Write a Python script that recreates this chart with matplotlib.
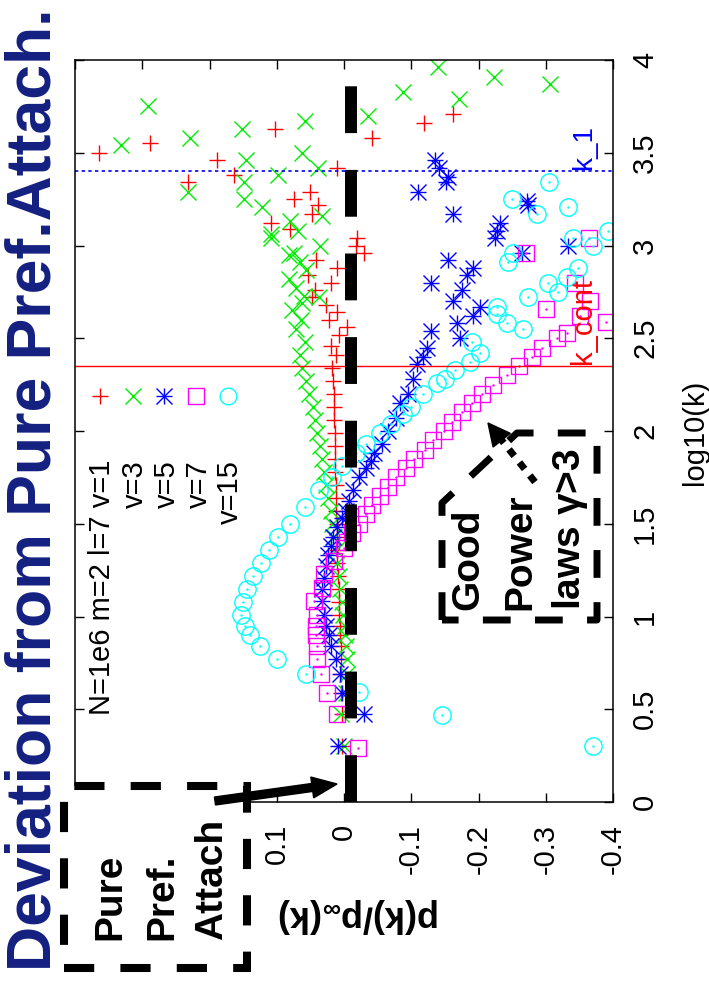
import numpy as np
import matplotlib
matplotlib.use('Agg')
import matplotlib.pyplot as plt
from matplotlib.transforms import IdentityTransform
from matplotlib.patches import Rectangle, Polygon, FancyArrow
from matplotlib.lines import Line2D

# ---------------- data (log10(k), deviation) ----------------
v1_logk = [0.30, 0.475, 0.59, 0.69, 0.77, 0.84, 0.90, 0.95, 1.01, 1.08, 1.15, 1.22, 1.29, 1.36,
           1.43, 1.50, 1.57, 1.64, 1.71, 1.78, 1.85, 1.92, 1.99, 2.06, 2.13, 2.20, 2.27, 2.34,
           2.41, 2.46, 2.52, 2.56, 2.60, 2.64, 2.68, 2.72, 2.76, 2.80, 2.84, 2.88, 2.92, 2.96,
           3.00, 3.04, 3.09, 3.12, 3.17, 3.22, 3.25, 3.29, 3.34, 3.38, 3.42, 3.46, 3.50, 3.55,
           3.58, 3.63, 3.66, 3.71]
v1_dev = [0.003, 0.003, 0.004, 0.004, 0.005, 0.005, 0.006, 0.006, 0.007, 0.008, 0.008, 0.009,
          0.010, 0.010, 0.011, 0.011, 0.012, 0.012, 0.012, 0.013, 0.013, 0.014, 0.014, 0.015,
          0.015, 0.015, 0.016, 0.018, 0.012, 0.020, 0.008, -0.005, 0.022, 0.010, 0.027, 0.047,
          0.043, 0.020, 0.053, 0.011, 0.041, -0.030, -0.018, -0.020, 0.080, 0.108, 0.047, 0.038,
          0.075, 0.050, 0.232, 0.163, 0.011, 0.189, 0.364, 0.288, -0.041, 0.102, -0.119, -0.162]

v3_logk = [0.30, 0.475, 0.59, 0.69, 0.77, 0.84, 0.90, 0.95, 1.01, 1.08, 1.15, 1.22, 1.29, 1.36,
           1.43, 1.50, 1.57, 1.64, 1.71, 1.78, 1.85, 1.92, 1.99, 2.06, 2.13, 2.20, 2.27, 2.34,
           2.41, 2.48, 2.55, 2.60, 2.65, 2.69, 2.72, 2.73, 2.77, 2.82, 2.87, 2.91, 2.95, 2.96,
           3.00, 3.04, 3.06, 3.08, 3.13, 3.16, 3.21, 3.25, 3.29, 3.34, 3.38, 3.42, 3.46, 3.50,
           3.54, 3.58, 3.63, 3.67, 3.70, 3.75, 3.79, 3.83, 3.87, 3.91, 3.96]
v3_dev = [0.000, 0.004, -0.003, -0.004, -0.004, -0.003, -0.002, -0.002, 0.002, 0.003, 0.006,
          0.008, 0.010, 0.012, 0.015, 0.018, 0.020, 0.024, 0.027, 0.030, 0.033, 0.036, 0.040,
          0.043, 0.046, 0.052, 0.056, 0.062, 0.066, 0.058, 0.072, 0.064, 0.078, 0.062, 0.037,
          0.059, 0.071, 0.082, 0.056, 0.066, 0.082, 0.074, 0.035, 0.108, 0.108, 0.068, 0.080,
          0.032, 0.122, 0.149, 0.232, 0.149, 0.098, 0.038, 0.146, 0.062, 0.332, 0.229, 0.151,
          0.058, -0.035, 0.292, -0.171, -0.087, -0.307, -0.223, -0.140]

v5_logk = [0.30, 0.475, 0.59, 0.69, 0.77, 0.84, 0.90, 0.95, 1.01, 1.085, 1.15, 1.21, 1.27, 1.33,
           1.38, 1.43, 1.48, 1.53, 1.57, 1.62, 1.68, 1.75, 1.80, 1.84, 1.88, 1.93, 2.00, 2.07,
           2.15, 2.20, 2.28, 2.36, 2.40, 2.45, 2.50, 2.54, 2.58, 2.62, 2.67, 2.70, 2.76, 2.80,
           2.84, 2.88, 2.92, 2.96, 3.00, 3.04, 3.08, 3.12, 3.17, 3.22, 3.24, 3.29, 3.34, 3.37,
           3.42, 3.46]
v5_dev = [0.009, -0.029, 0.003, 0.006, 0.012, 0.019, 0.022, 0.027, 0.030, 0.032, 0.032, 0.030,
          0.027, 0.024, 0.020, 0.016, 0.010, 0.003, -0.003, -0.008, -0.013, -0.023, -0.033,
          -0.040, -0.045, -0.057, -0.065, -0.078, -0.083, -0.095, -0.102, -0.108, -0.117,
          -0.123, -0.172, -0.130, -0.168, -0.192, -0.202, -0.162, -0.175, -0.130, -0.183,
          -0.192, -0.155, -0.265, -0.333, -0.224, -0.227, -0.232, -0.162, -0.274, -0.272,
          -0.110, -0.152, -0.154, -0.142, -0.135]

v7_logk = [0.29, 0.475, 0.59, 0.69, 0.77, 0.84, 0.90, 0.95, 1.01, 1.085, 1.155, 1.23, 1.30,
           1.37, 1.40, 1.45, 1.50, 1.55, 1.60, 1.65, 1.70, 1.75, 1.80, 1.85, 1.90, 1.95, 2.00,
           2.05, 2.10, 2.15, 2.20, 2.25, 2.30, 2.35, 2.40, 2.45, 2.50, 2.53, 2.59, 2.62, 2.66,
           2.70, 2.80, 2.96, 3.04]
v7_dev = [-0.021, 0.010, 0.025, 0.034, 0.040, 0.040, 0.042, 0.042, 0.040, 0.044, 0.032, 0.030,
          0.015, 0.000, -0.005, -0.012, -0.022, -0.032, -0.042, -0.054, -0.065, -0.078, -0.092,
          -0.104, -0.120, -0.133, -0.148, -0.160, -0.175, -0.190, -0.205, -0.222, -0.243,
          -0.260, -0.280, -0.295, -0.316, -0.331, -0.390, -0.351, -0.300, -0.366, -0.344,
          -0.270, -0.364]

v15_logk = [0.30, 0.47, 0.595, 0.69, 0.77, 0.84, 0.90, 0.95, 1.01, 1.08, 1.15, 1.22, 1.29, 1.36,
            1.43, 1.50, 1.59, 1.68, 1.75, 1.81, 1.88, 1.93, 1.99, 2.04, 2.09, 2.13, 2.20, 2.26,
            2.28, 2.33, 2.37, 2.42, 2.48, 2.55, 2.58, 2.63, 2.67, 2.72, 2.75, 2.80, 2.83, 2.88,
            2.91, 2.96, 3.00, 3.04, 3.08, 3.17, 3.21, 3.25, 3.34]
v15_dev = [-0.371, -0.145, -0.022, 0.056, 0.099, 0.125, 0.140, 0.147, 0.153, 0.150, 0.144,
           0.135, 0.124, 0.112, 0.098, 0.080, 0.058, 0.037, 0.018, 0.003, -0.018, -0.033,
           -0.053, -0.070, -0.087, -0.100, -0.117, -0.138, -0.150, -0.165, -0.187, -0.202,
           -0.190, -0.266, -0.242, -0.227, -0.227, -0.274, -0.318, -0.304, -0.331, -0.348,
           -0.244, -0.252, -0.370, -0.341, -0.393, -0.287, -0.333, -0.250, -0.305]

legend_labels = ['N=1e6 m=2 l=7 v=1', 'v=3', 'v=5', 'v=7', 'v=15']
dev_ticks = [0.4, 0.3, 0.2, 0.1, 0.0, -0.1, -0.2, -0.3, -0.4]
dev_ticklabels = ['', '', '', '0.1', '0', '-0.1', '-0.2', '-0.3', '-0.4']
logk_ticks = [0, 0.5, 1, 1.5, 2, 2.5, 3, 3.5, 4]
logk_ticklabels = ['0', '0.5', '1', '1.5', '2', '2.5', '3', '3.5', '4']
ref_dev = -0.01          # thick dashed "pure pref. attach" line
k1_logk = 3.40
kcont_logk = 2.353

# ---------------- styling ----------------
plt.rcParams['font.family'] = ['Liberation Sans', 'DejaVu Sans']
plt.rcParams['mathtext.fontset'] = 'custom'
plt.rcParams['mathtext.rm'] = 'Liberation Sans'
plt.rcParams['mathtext.bf'] = 'Liberation Sans:bold'
plt.rcParams['mathtext.it'] = 'Liberation Sans:italic'

W, H = 709, 981
fig = plt.figure(figsize=(W / 100, H / 100), dpi=100)
ax = fig.add_axes([75 / W, 1 - 802 / H, (613 - 75) / W, (802 - 60) / H])
PX = IdentityTransform()

def fx(x):
    return x / W

def fy(y):
    return 1 - y / H

RED, GREEN, BLUE, MAG, CYAN = '#ff0000', '#00ee00', '#0000ff', '#ff00ff', '#00ffff'
mk = dict(ls='none', mew=1.0)

ax.plot(v1_dev, v1_logk, marker='+', ms=12, color=RED, **mk)
ax.plot(v3_dev, v3_logk, marker='x', ms=12, color=GREEN, **mk)
ax.plot(v5_dev, v5_logk, marker='+', ms=12, color=BLUE, **mk)
ax.plot(v5_dev, v5_logk, marker='x', ms=12, color=BLUE, **mk)
ax.plot(v7_dev, v7_logk, marker='s', ms=11.5, mfc='none', color=MAG, **mk)
ax.plot(v7_dev, v7_logk, marker='.', ms=1.5, color=MAG, **mk)
ax.plot(v15_dev, v15_logk, marker='o', ms=12.5, mfc='none', color=CYAN, **mk)
ax.plot(v15_dev, v15_logk, marker='.', ms=1.5, color=CYAN, **mk)

# reference lines
ax.axhline(k1_logk, color=BLUE, lw=1.2, ls=(0, (2, 2)))
ax.axhline(kcont_logk, color=RED, lw=1.0)
ax.plot([ref_dev, ref_dev], [0.0, 4.3], color='black', lw=8.6,
        ls=(0, (3.92, 3.08)), dash_capstyle='butt', zorder=10, clip_on=True)

ax.set_xlim(0.4, -0.4)
ax.set_ylim(0, 4)
ax.set_xticks(dev_ticks)
ax.set_xticklabels(dev_ticklabels)
ax.set_yticks(logk_ticks)
ax.set_yticklabels(logk_ticklabels)
ax.yaxis.tick_right()
ax.tick_params(direction='in', length=6.5, width=1.0, top=True, bottom=True,
               left=True, right=True, labelsize=21)
ax.tick_params(axis='x', labelrotation=90, pad=16)
ax.tick_params(axis='y', labelrotation=90, pad=13, labelleft=False, labelright=True)
for lab in ax.get_yticklabels():
    lab.set_va('center')
for s in ax.spines.values():
    s.set_linewidth(1.1)

# line labels
fig.text(fx(591), fy(170), 'k_1', color=BLUE, fontsize=20, rotation=90,
         rotation_mode='anchor', ha='left', va='baseline')
fig.text(fx(591), fy(364), 'k_cont', color=RED, fontsize=21, rotation=90,
         rotation_mode='anchor', ha='left', va='baseline')

# legend
key_x = [100, 133, 164, 196, 228]
key_y = 396
leg_keys = [dict(marker='+', color=RED), dict(marker='x', color=GREEN),
            dict(marker='+', color=BLUE), dict(marker='s', color=MAG, mfc='none'),
            dict(marker='o', color=CYAN, mfc='none')]
for i, (xx, kw) in enumerate(zip(key_x, leg_keys)):
    ms = 12 if kw['marker'] in '+xo' else 11.5
    fig.add_artist(Line2D([fx(xx)], [fy(key_y)], transform=fig.transFigure,
                          ms=ms, mew=1.0, ls='none', **kw))
    if i == 2:
        fig.add_artist(Line2D([fx(xx)], [fy(key_y)], transform=fig.transFigure,
                              marker='x', ms=12, mew=1.0, color=BLUE, ls='none'))
text_base = [110, 143, 175, 207, 238]
for lab, xb in zip(legend_labels, text_base):
    fig.text(fx(xb), fy(460), lab, fontsize=21, rotation=90, rotation_mode='anchor',
             ha='right', va='baseline')

# title and axis labels
fig.text(fx(51), fy(490), 'Deviation from Pure Pref.Attach.', rotation=90,
         rotation_mode='anchor', ha='center', va='baseline', fontsize=45,
         fontweight='bold', color='#142080')
fig.text(fx(359), fy(915), r'p(k)/p$_\mathbf{\infty}$(k)', rotation=180,
         ha='center', va='center', fontsize=26, fontweight='bold')
fig.text(fx(695), fy(432), 'log10(k)', rotation=90, ha='center', va='center', fontsize=21)

# box 1: Pure Pref. Attach
box1 = Rectangle((64, H - 968), 183, 182, transform=PX, facecolor='white',
                 edgecolor='black', lw=5.8, ls=(0, (3.75, 3.25)), zorder=5)
fig.add_artist(box1)
for txt, xb in zip(['Pure', 'Pref.', 'Attach'], [120, 172, 222]):
    fig.text(fx(xb), fy(940), txt, rotation=90, rotation_mode='anchor', ha='left',
             va='baseline', fontsize=28, fontweight='bold', zorder=6)
arr1 = FancyArrow(215, H - 801, 337 - 215, 801 - 784, width=8, head_width=21,
                  head_length=25, length_includes_head=True, color='black',
                  transform=PX, zorder=7)
fig.add_artist(arr1)

# box 2: Good Power laws
box2 = Polygon([(442, H - 620), (442, H - 503), (517, H - 433), (597, H - 433),
                (597, H - 620)], closed=True, transform=PX, facecolor='none',
               edgecolor='black', lw=5.0, ls=(0, (4.0, 3.5)), joinstyle='round', zorder=5)
fig.add_artist(box2)
for txt, xb in zip(['Good', 'Power', r'laws $\mathregular{\gamma}$>3'], [478, 530, 580]):
    fig.text(fx(xb), fy(610), txt, rotation=90, rotation_mode='anchor', ha='left',
             va='baseline', fontsize=28, fontweight='bold', zorder=6)
tail = np.array([535.0, 482.0])
tip = np.array([488.0, 423.0])
u = (tip - tail) / np.hypot(*(tip - tail))
base = tip - 22 * u
fig.add_artist(Line2D([tail[0], base[0]], [H - tail[1], H - base[1]], transform=PX,
                      color='black', lw=5.0, ls=(0, (1.2, 1.2)), zorder=7))
fig.add_artist(FancyArrow(base[0], H - base[1], 22 * u[0], -22 * u[1], width=0.1,
                          head_width=22, head_length=22, length_includes_head=True,
                          color='black', transform=PX, zorder=7))

fig.savefig('out.png', dpi=100)
